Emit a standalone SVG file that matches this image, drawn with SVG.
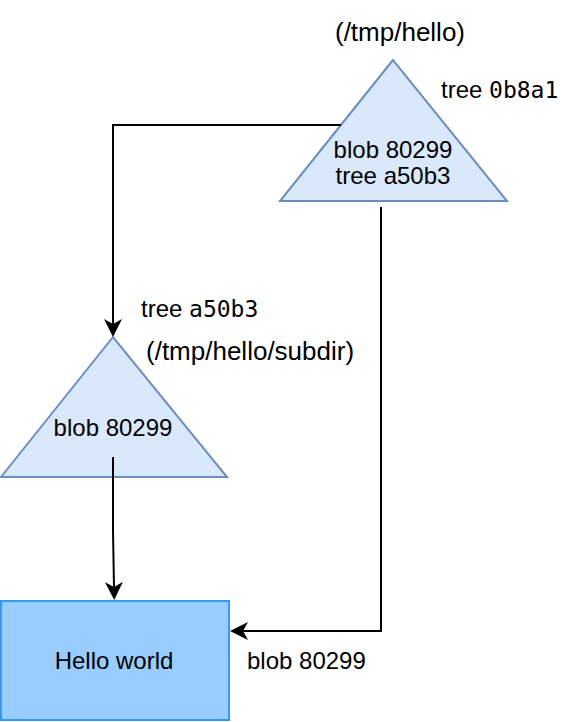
<svg xmlns="http://www.w3.org/2000/svg" width="582" height="722" viewBox="0 0 582 722">
<style>
.tri{fill:#dae8fc;stroke:#6c8ebf;stroke-width:2}
.box{fill:#99ccff;stroke:#3399ff;stroke-width:2}
.t{font-family:"Liberation Sans",Arial,sans-serif;font-size:24px;fill:#000}
.p{font-size:26px}
.m{font-family:"DejaVu Sans Mono","Liberation Mono",monospace;font-size:23px}
.c{text-anchor:middle}
.edge{fill:none;stroke:#000;stroke-width:2}
</style>
<defs>
<marker id="arr" markerUnits="userSpaceOnUse" markerWidth="18" markerHeight="18" viewBox="0 0 18 18" refX="5" refY="9" orient="auto">
<path d="M0,0 L18,9 L0,18 L5,9 Z" fill="#000"/>
</marker>
</defs>
<g id="tree-root">
<polygon class="tri" points="393,60 280,201 507,201"/>
<text class="t c" x="393" y="158">blob 80299</text>
<text class="t c" x="393" y="184">tree a50b3</text>
</g>
<g id="tree-subdir">
<polygon class="tri" points="113,337 1,477 227,477"/>
<text class="t c" x="113" y="436">blob 80299</text>
</g>
<g id="blob">
<rect class="box" x="1" y="601" width="228" height="119"/>
<text class="t c" x="114" y="669">Hello world</text>
</g>
<g id="labels">
<text class="t p c" x="400" y="41">(/tmp/hello)</text>
<text class="t" x="441" y="98">tree <tspan class="m">0b8a1</tspan></text>
<text class="t" x="141" y="317">tree <tspan class="m">a50b3</tspan></text>
<text class="t p" x="146" y="360">(/tmp/hello/subdir)</text>
<text class="t" x="247" y="669">blob 80299</text>
</g>
<g id="connectors">
<path class="edge" d="M341,125 H113 V324" marker-end="url(#arr)"/>
<path class="edge" d="M381,207 V631 H243" marker-end="url(#arr)"/>
<path class="edge" d="M113,457 L113,530 L114,587" marker-end="url(#arr)"/>
</g>
</svg>
